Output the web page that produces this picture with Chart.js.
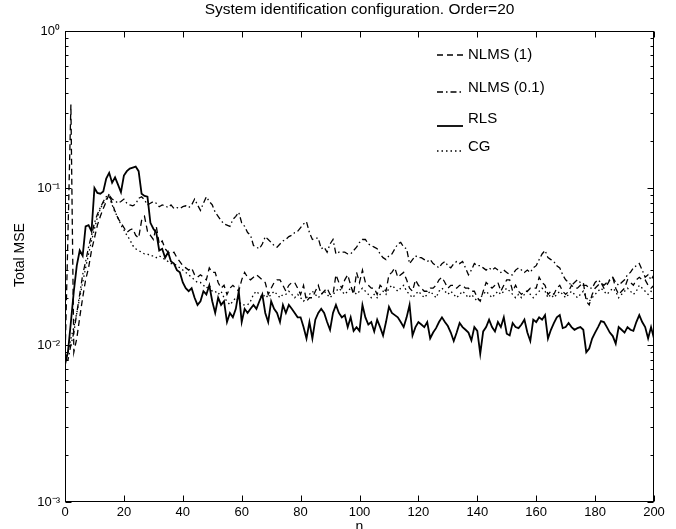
<!DOCTYPE html>
<html><head><meta charset="utf-8">
<script src="https://cdn.jsdelivr.net/npm/chart.js@4.4.1/dist/chart.umd.min.js"></script>
<style>html,body{margin:0;padding:0;background:#fff;}</style>
</head><body>
<canvas id="c" width="676" height="529" style="width:676px;height:529px;display:block"></canvas>
<script>
const titleText = 'System identification configuration. Order=20';
const xLabel = 'n';
const yLabel = 'Total MSE';
const seriesNames = ['NLMS (1)', 'NLMS (0.1)', 'RLS', 'CG'];
const xTicks = [0,20,40,60,80,100,120,140,160,180,200];
const yDecades = [0.001, 0.01, 0.1, 1];
const yTickLabels = {'0':'10\u2070','-1':'10\u207B\u00B9','-2':'10\u207B\u00B2','-3':'10\u207B\u00B3'};
const n = Array.from({length:201},(_,i)=>i);

const nlms1 = [
0.008,0.05,0.34,0.009,0.011,0.015,0.020,0.026,0.031,0.040,
0.048,0.058,0.066,0.074,0.082,0.092,0.080,0.071,0.064,0.060,
0.056,0.052,0.054,0.055,0.050,0.048,0.062,0.066,0.053,0.050,
0.047,0.057,0.044,0.046,0.041,0.039,0.038,0.039,0.036,0.034,
0.032,0.031,0.030,0.031,0.028,0.027,0.028,0.027,0.026,0.031,
0.029,0.029,0.025,0.023,0.024,0.021,0.023,0.024,0.023,0.022,
0.026,0.029,0.027,0.026,0.027,0.028,0.027,0.026,0.025,0.021,
0.023,0.025,0.026,0.026,0.024,0.022,0.024,0.025,0.025,0.023,
0.021,0.024,0.019,0.020,0.020,0.022,0.024,0.021,0.022,0.023,
0.021,0.021,0.028,0.025,0.023,0.026,0.028,0.024,0.021,0.029,
0.025,0.030,0.025,0.024,0.023,0.023,0.021,0.024,0.023,0.022,
0.028,0.029,0.031,0.027,0.028,0.029,0.026,0.023,0.022,0.026,
0.024,0.023,0.022,0.022,0.023,0.023,0.024,0.026,0.027,0.025,
0.023,0.024,0.024,0.023,0.024,0.024,0.023,0.023,0.022,0.022,
0.020,0.019,0.022,0.025,0.024,0.023,0.024,0.025,0.022,0.024,
0.026,0.026,0.022,0.024,0.022,0.021,0.022,0.022,0.023,0.023,
0.023,0.027,0.025,0.024,0.021,0.022,0.021,0.023,0.024,0.022,
0.021,0.022,0.024,0.023,0.023,0.024,0.025,0.019,0.018,0.021,
0.023,0.024,0.025,0.023,0.024,0.026,0.027,0.023,0.021,0.022,
0.023,0.026,0.025,0.024,0.026,0.027,0.026,0.026,0.024,0.023,
0.024];

const nlms01 = [
0.008,0.008,0.010,0.012,0.016,0.021,0.028,0.034,0.042,0.050,
0.060,0.068,0.075,0.082,0.088,0.090,0.085,0.083,0.080,0.082,
0.085,0.080,0.078,0.077,0.079,0.086,0.088,0.084,0.078,0.080,
0.082,0.080,0.076,0.078,0.077,0.075,0.078,0.074,0.075,0.074,
0.076,0.077,0.075,0.078,0.085,0.078,0.072,0.080,0.088,0.082,
0.078,0.070,0.066,0.062,0.059,0.058,0.057,0.063,0.066,0.070,
0.060,0.057,0.052,0.050,0.043,0.042,0.041,0.044,0.049,0.047,
0.045,0.043,0.042,0.044,0.046,0.047,0.049,0.050,0.052,0.053,
0.056,0.059,0.061,0.052,0.047,0.048,0.048,0.041,0.042,0.039,
0.044,0.047,0.038,0.039,0.039,0.039,0.038,0.038,0.040,0.042,
0.045,0.047,0.047,0.044,0.043,0.042,0.041,0.038,0.036,0.035,
0.037,0.038,0.041,0.044,0.045,0.042,0.041,0.033,0.035,0.037,
0.036,0.036,0.035,0.034,0.035,0.033,0.032,0.031,0.033,0.034,
0.032,0.031,0.033,0.034,0.033,0.034,0.031,0.028,0.030,0.033,
0.032,0.032,0.031,0.030,0.031,0.030,0.031,0.030,0.029,0.030,
0.029,0.028,0.028,0.030,0.031,0.030,0.029,0.030,0.029,0.031,
0.032,0.035,0.038,0.040,0.036,0.035,0.034,0.032,0.031,0.028,
0.026,0.025,0.024,0.025,0.026,0.025,0.024,0.024,0.023,0.023,
0.025,0.026,0.025,0.024,0.025,0.026,0.027,0.025,0.024,0.025,
0.026,0.028,0.029,0.031,0.032,0.033,0.030,0.027,0.028,0.026,
0.028];

const rls = [
0.0075,0.009,0.014,0.022,0.032,0.040,0.037,0.057,0.058,0.053,
0.100,0.093,0.092,0.095,0.115,0.125,0.108,0.117,0.105,0.094,
0.120,0.128,0.133,0.135,0.137,0.128,0.092,0.089,0.088,0.060,
0.055,0.052,0.040,0.041,0.036,0.039,0.034,0.033,0.030,0.029,
0.025,0.023,0.022,0.023,0.020,0.018,0.019,0.022,0.021,0.024,
0.019,0.016,0.020,0.018,0.019,0.014,0.016,0.015,0.017,0.022,
0.014,0.017,0.016,0.017,0.018,0.017,0.019,0.021,0.016,0.014,
0.019,0.017,0.016,0.014,0.018,0.016,0.018,0.017,0.016,0.015,
0.015,0.013,0.011,0.014,0.011,0.0145,0.016,0.017,0.016,0.014,
0.0125,0.016,0.018,0.016,0.015,0.0155,0.013,0.015,0.0123,0.013,
0.0123,0.018,0.015,0.0135,0.014,0.0122,0.0145,0.013,0.0115,0.014,
0.0175,0.016,0.0155,0.015,0.014,0.013,0.015,0.018,0.0115,0.013,
0.014,0.0135,0.013,0.014,0.011,0.012,0.0128,0.014,0.015,0.014,
0.0132,0.012,0.0106,0.012,0.0138,0.013,0.0125,0.012,0.0107,0.013,
0.0123,0.0088,0.0122,0.013,0.0145,0.013,0.0122,0.014,0.013,0.015,
0.0118,0.0115,0.0138,0.013,0.0128,0.0135,0.0145,0.012,0.0106,0.0145,
0.014,0.015,0.0145,0.0155,0.011,0.0125,0.0138,0.015,0.0155,0.0128,
0.013,0.0138,0.013,0.0125,0.0128,0.013,0.0125,0.009,0.0095,0.011,
0.012,0.013,0.0142,0.014,0.013,0.012,0.0114,0.0102,0.013,0.0125,
0.012,0.013,0.0125,0.0123,0.014,0.0155,0.014,0.013,0.011,0.013,
0.011];

const cg = [
0.008,0.009,0.011,0.013,0.016,0.020,0.025,0.031,0.038,0.046,
0.055,0.065,0.074,0.080,0.085,0.088,0.078,0.070,0.065,0.058,
0.054,0.050,0.047,0.043,0.041,0.040,0.039,0.038,0.038,0.037,
0.037,0.036,0.037,0.036,0.035,0.034,0.033,0.033,0.032,0.031,
0.030,0.029,0.028,0.027,0.026,0.025,0.025,0.024,0.023,0.024,
0.022,0.022,0.021,0.022,0.020,0.019,0.018,0.019,0.020,0.019,
0.018,0.018,0.018,0.019,0.021,0.022,0.021,0.020,0.021,0.020,
0.021,0.022,0.021,0.020,0.021,0.021,0.022,0.021,0.020,0.021,
0.020,0.019,0.020,0.021,0.022,0.021,0.020,0.021,0.022,0.021,
0.020,0.021,0.022,0.023,0.022,0.021,0.022,0.023,0.022,0.021,
0.022,0.023,0.022,0.021,0.020,0.021,0.020,0.021,0.022,0.021,
0.023,0.024,0.023,0.022,0.023,0.024,0.022,0.021,0.020,0.021,
0.022,0.021,0.020,0.021,0.022,0.021,0.020,0.022,0.023,0.022,
0.021,0.022,0.021,0.020,0.021,0.022,0.021,0.020,0.021,0.020,
0.019,0.020,0.021,0.022,0.021,0.020,0.021,0.022,0.021,0.022,
0.023,0.022,0.021,0.020,0.021,0.020,0.021,0.022,0.021,0.020,
0.021,0.022,0.023,0.022,0.020,0.021,0.020,0.021,0.022,0.021,
0.020,0.021,0.022,0.021,0.020,0.021,0.022,0.020,0.019,0.020,
0.021,0.022,0.023,0.022,0.021,0.022,0.023,0.022,0.020,0.021,
0.022,0.023,0.022,0.021,0.022,0.024,0.023,0.022,0.021,0.022,
0.021];

const FONT = '"Liberation Sans", Arial, Helvetica, sans-serif';
const pts = arr => arr.map((v,i)=>({x:n[i], y:v}));

function decadeLabel(v){
  const e = Math.log10(v);
  const r = Math.round(e);
  if (Math.abs(e - r) < 1e-6) return yTickLabels[String(r)] || '';
  return '';
}

const legendPos = [
  {line:55, text:55},
  {line:92, text:88},
  {line:126, text:119},
  {line:151, text:147}
];

const decor = {
  id:'decor',
  beforeDraw(chart){
    const c = chart.ctx;
    c.save(); c.fillStyle='#fff'; c.fillRect(0,0,chart.width,chart.height); c.restore();
  },
  afterDraw(chart){
    const c = chart.ctx, a = chart.chartArea, xs = chart.scales.x, ys = chart.scales.y;
    c.save();
    c.strokeStyle='#000'; c.lineWidth=1; c.setLineDash([]);
    const L=Math.round(a.left)+0.5, R=Math.round(a.right)-0.5, T=Math.round(a.top)+0.5, B=Math.round(a.bottom)-0.5;
    c.strokeRect(L, T, R-L, B-T);
    c.beginPath();
    xTicks.forEach(v=>{
      const px = Math.round(xs.getPixelForValue(v))+0.5;
      c.moveTo(px,B); c.lineTo(px,B-6);
      c.moveTo(px,T); c.lineTo(px,T+6);
    });
    for (let d=0; d<yDecades.length; d++){
      const base = yDecades[d];
      const mults = d < yDecades.length-1 ? [1,2,3,4,5,6,7,8,9] : [1];
      mults.forEach(m=>{
        const len = m===1 ? 6 : 3;
        const py = Math.round(ys.getPixelForValue(base*m))+0.5;
        c.moveTo(L,py); c.lineTo(L+len,py);
        c.moveTo(R,py); c.lineTo(R-len,py);
      });
    }
    c.stroke();
    // title
    c.fillStyle='#000';
    c.font = '15.5px ' + FONT;
    c.textAlign='center'; c.textBaseline='middle';
    c.fillText(titleText, (a.left+a.right)/2, 10);
    // x label
    c.font = '14px ' + FONT;
    c.fillText(xLabel, (a.left+a.right)/2, 527);
    // y label
    c.save();
    c.translate(20, 255);
    c.rotate(-Math.PI/2);
    c.font = '14px ' + FONT;
    c.fillText(yLabel, 0, 0);
    c.restore();
    // legend
    chart.data.datasets.forEach((ds,i)=>{
      const p = legendPos[i];
      c.beginPath();
      c.lineWidth = ds.borderWidth;
      c.setLineDash(ds.borderDash || []);
      c.moveTo(437, p.line); c.lineTo(463, p.line);
      c.stroke();
      c.setLineDash([]);
      c.font = '15px ' + FONT;
      c.textAlign='left'; c.textBaseline='middle';
      c.fillText(ds.label, 468, p.text);
    });
    c.restore();
  }
};

const styles = [
  {dash:[6,4], w:1.3},
  {dash:[6,3,1.5,3], w:1.3},
  {dash:[], w:1.8},
  {dash:[1.5,3], w:1.3}
];
const series = [nlms1, nlms01, rls, cg];

new Chart(document.getElementById('c'), {
  type:'line',
  data:{
    datasets: series.map((s,i)=>({
      label: seriesNames[i],
      data: pts(s),
      borderColor:'#000',
      borderWidth: styles[i].w,
      borderDash: styles[i].dash,
      pointRadius:0,
      tension:0,
      fill:false
    }))
  },
  options:{
    responsive:false,
    animation:false,
    layout:{padding:{top:31, right:22, left:0, bottom:0}},
    plugins:{legend:{display:false}, title:{display:false}, tooltip:{enabled:false}},
    scales:{
      x:{
        type:'linear', min:0, max:200,
        afterFit(s){ s.height = 27; },
        grid:{display:false, drawTicks:false}, border:{display:false},
        ticks:{stepSize:20, autoSkip:false, maxRotation:0, padding:3, color:'#000', font:{family:FONT, size:13}}
      },
      y:{
        type:'logarithmic', min:0.001, max:1,
        afterFit(s){ s.width = 65; },
        grid:{display:false, drawTicks:false}, border:{display:false},
        ticks:{autoSkip:false, padding:5, color:'#000', font:{family:FONT, size:13},
          callback:(v)=>decadeLabel(v)}
      }
    }
  },
  plugins:[decor]
});
</script>
</body></html>
